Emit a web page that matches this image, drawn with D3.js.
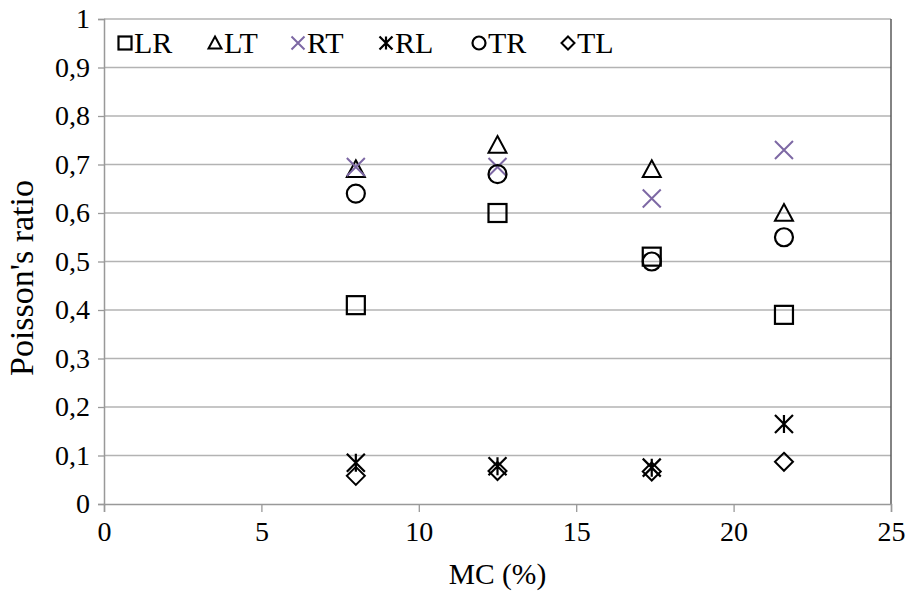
<!DOCTYPE html>
<html>
<head>
<meta charset="utf-8">
<script src="https://cdn.jsdelivr.net/npm/d3@7"></script>
<style>
  body { margin: 0; background: #fff; }
  svg text { font-family: "Liberation Serif", "Times New Roman", "DejaVu Serif", serif; fill: #000; }
</style>
</head>
<body>
<svg id="chart" width="907" height="592"></svg>
<script>
// MC (%) values
const mc = [8, 12.5, 17.4, 21.6];

// Poisson's ratio per series
const LR = [0.41, 0.60, 0.51, 0.39];
const LT = [0.69, 0.74, 0.69, 0.60];
const RT = [0.695, 0.695, 0.63, 0.73];
const RL = [0.085, 0.078, 0.075, 0.165];
const TR = [0.64, 0.68, 0.50, 0.55];
const TL = [0.058, 0.068, 0.067, 0.087];

const seriesNames = ["LR", "LT", "RT", "RL", "TR", "TL"];
const seriesValues = [LR, LT, RT, RL, TR, TL];

const xTicks = [0, 5, 10, 15, 20, 25];
const yTicks = [0, 0.1, 0.2, 0.3, 0.4, 0.5, 0.6, 0.7, 0.8, 0.9, 1];

const svg = d3.select("#chart");
const margin = { left: 104, right: 16, top: 19, bottom: 88 };
const width = 907, height = 592;

const x = d3.scaleLinear().domain([0, 25]).range([margin.left, width - margin.right]);
const y = d3.scaleLinear().domain([0, 1]).range([height - margin.bottom, margin.top]);

// gridlines
svg.append("g")
    .selectAll("line")
    .data(yTicks.filter(d => d > 0))
    .join("line")
    .attr("x1", x(0)).attr("x2", x(25))
    .attr("y1", d => y(d)).attr("y2", d => y(d))
    .attr("stroke", "#b3b3b3")
    .attr("stroke-width", 1.3);

// right border
svg.append("line")
    .attr("x1", x(25)).attr("x2", x(25))
    .attr("y1", y(1)).attr("y2", y(0))
    .attr("stroke", "#5a5a5a").attr("stroke-width", 1.5);

// axes
const fmt = d => d3.format(".1~f")(d).replace(".", ",");

const xAxis = svg.append("g")
    .attr("transform", `translate(0,${y(0)})`)
    .call(d3.axisBottom(x).tickValues(xTicks).tickSize(8).tickPadding(9).tickFormat(d3.format("d")));

const yAxis = svg.append("g")
    .attr("transform", `translate(${x(0)},0)`)
    .call(d3.axisLeft(y).tickValues(yTicks).tickSize(6).tickPadding(8).tickFormat(fmt));

[xAxis, yAxis].forEach(a => {
    a.attr("font-size", null).attr("font-family", null);
    a.select(".domain").attr("stroke", "#999").attr("stroke-width", 1.5);
    a.selectAll(".tick line").attr("stroke", "#999").attr("stroke-width", 1.3);
    a.selectAll(".tick text").attr("font-size", 28);
});

// axis titles
svg.append("text")
    .attr("x", (x(0) + x(25)) / 2).attr("y", 584)
    .attr("text-anchor", "middle")
    .attr("font-size", 29.5)
    .text("MC (%)");

svg.append("text")
    .attr("transform", `translate(33,278) rotate(-90)`)
    .attr("text-anchor", "middle")
    .attr("font-size", 34)
    .text("Poisson's ratio");

// marker shapes
function drawMarker(g, name, s) {
    const h = s / 2;
    if (name === "LR") {
        g.append("rect").attr("x", -h).attr("y", -h).attr("width", s).attr("height", s)
            .attr("fill", "none").attr("stroke", "#000").attr("stroke-width", 2.2);
    } else if (name === "LT") {
        g.append("path").attr("d", `M0,${-h}L${h},${h * 0.85}L${-h},${h * 0.85}Z`)
            .attr("fill", "none").attr("stroke", "#000").attr("stroke-width", 2);
    } else if (name === "RT") {
        g.append("path").attr("d", `M${-h},${-h}L${h},${h}M${h},${-h}L${-h},${h}`)
            .attr("stroke", "#7d68a4").attr("stroke-width", 2);
    } else if (name === "RL") {
        g.append("path").attr("d", `M${-h},${-h}L${h},${h}M${h},${-h}L${-h},${h}M0,${-h}L0,${h}`)
            .attr("stroke", "#000").attr("stroke-width", 2.2);
    } else if (name === "TR") {
        g.append("circle").attr("r", h)
            .attr("fill", "none").attr("stroke", "#000").attr("stroke-width", 2.2);
    } else if (name === "TL") {
        g.append("path").attr("d", `M0,${-h}L${h},0L0,${h}L${-h},0Z`)
            .attr("fill", "none").attr("stroke", "#000").attr("stroke-width", 2);
    }
}

// points
seriesNames.forEach((name, i) => {
    svg.append("g")
        .selectAll("g")
        .data(mc.map((m, j) => ({ x: m, y: seriesValues[i][j] })))
        .join("g")
        .attr("transform", d => `translate(${x(d.x)},${y(d.y)})`)
        .each(function () { drawMarker(d3.select(this), name, 18); });
});

// legend
const legendX = [125, 215, 298, 386, 479, 568];
const legend = svg.append("g");
seriesNames.forEach((name, i) => {
    const g = legend.append("g").attr("transform", `translate(${legendX[i]},43)`);
    drawMarker(g, name, 13);
    g.append("text").attr("x", 9).attr("y", 10).attr("font-size", 30).text(name);
});
</script>
</body>
</html>
